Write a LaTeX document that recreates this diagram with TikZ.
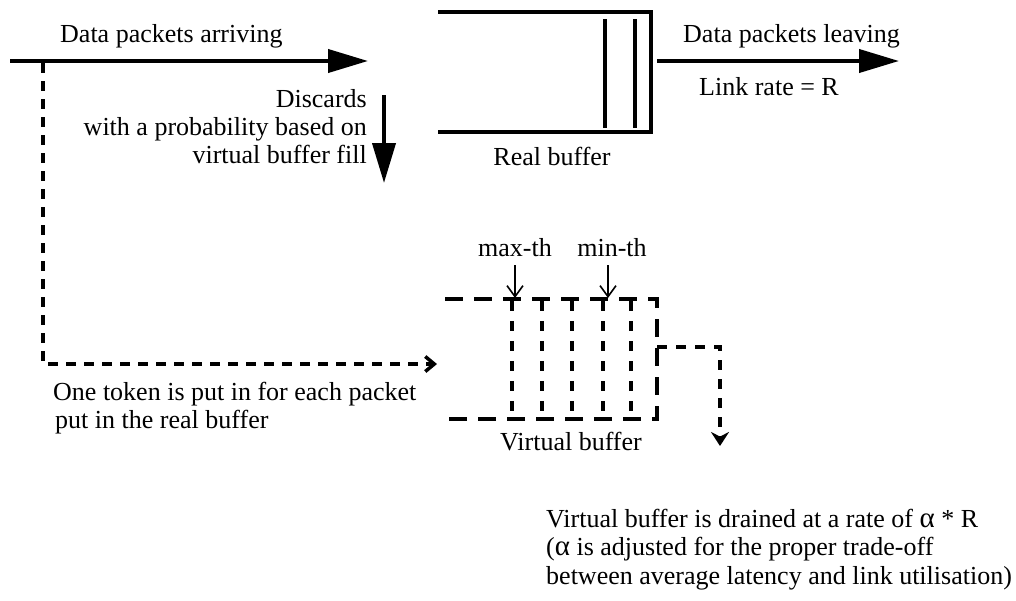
\documentclass[tikz,border=0pt]{standalone}
\usepackage{fontspec}
\setmainfont{Liberation Serif}
\usetikzlibrary{arrows.meta}
\begin{document}
\begin{tikzpicture}[x=1pt,y=-1pt,
  thickline/.style={line width=4pt},
  bigarrow/.style={line width=4pt,-{Triangle[length=40pt,width=23pt]}},
  tokenline/.style={line width=3.5pt,dash pattern=on 10pt off 8pt,-{Straight Barb[length=9pt,width=15pt]}},
  vbline/.style={line width=4pt,dash pattern=on 18pt off 11pt},
  vbinner/.style={line width=3.5pt,dash pattern=on 10pt off 10pt},
  drainline/.style={line width=3.5pt,dash pattern=on 10pt off 9pt,-{Stealth[length=14pt,width=18pt]}},
  tharrow/.style={line width=1.6pt,-{Straight Barb[length=11pt,width=16pt]}},
  lbl/.style={font=\fontsize{26}{28}\selectfont,inner sep=0pt},
  note/.style={font=\fontsize{26}{28.5}\selectfont,inner sep=0pt}]
\useasboundingbox (0,0) rectangle (1016,600);
% coordinates
\coordinate (inS) at (10,61);
\coordinate (inE) at (368,61);
\coordinate (tap) at (43,63);
\coordinate (tokC) at (43,364);
\coordinate (tokE) at (437,364);
\coordinate (dS) at (384,95);
\coordinate (dE) at (384,183);
\coordinate (outS) at (657,61);
\coordinate (outE) at (899,61);
\coordinate (rbTL) at (438,12);
\coordinate (rbTR) at (651,12);
\coordinate (rbBR) at (651,132);
\coordinate (rbBL) at (438,132);
\coordinate (vbTL) at (445,299);
\coordinate (vbTR) at (657,299);
\coordinate (vbBR) at (657,419);
\coordinate (vbBL) at (445,419);
\coordinate (drS) at (657,347);
\coordinate (drC) at (720,347);
\coordinate (drE) at (720,446);
\coordinate (maxS) at (515,265);
\coordinate (maxE) at (515,298);
\coordinate (minS) at (608,265);
\coordinate (minE) at (608,298);
% real buffer
\draw[thickline,line join=miter] (rbTL) -- (rbTR) -- (rbBR) -- (rbBL);
\foreach \x/\n in {605/a,635/b}{
  \coordinate (bar\n T) at (\x,19);
  \coordinate (bar\n B) at (\x,128);
  \draw[thickline] (bar\n T) -- (bar\n B);
}
% arrows
\draw[bigarrow] (inS) -- (inE);
\draw[bigarrow] (outS) -- (outE);
\draw[bigarrow] (dS) -- (dE);
\draw[tokenline] (tap) -- (tokC) -- (tokE);
% virtual buffer
\draw[vbline] (vbTL) -- (vbTR) -- (vbBR) -- (vbBL);
\foreach \x/\n in {512/a,542/b,572/c,603/d,631/e}{
  \coordinate (vb\n T) at (\x,301);
  \coordinate (vb\n B) at (\x,419);
  \draw[vbinner] (vb\n T) -- (vb\n B);
}
\draw[drainline] (drS) -- (drC) -- (drE);
\draw[tharrow] (maxS) -- (maxE);
\draw[tharrow] (minS) -- (minE);
% labels
\node[lbl,anchor=base west] (arriving) at (60,42) {Data packets arriving};
\node[lbl,anchor=base east,align=right] (discards) at (367,163) {Discards\\with a probability based on\\virtual buffer fill};
\node[lbl,anchor=base] (realbuf) at (552,165) {Real buffer};
\node[lbl,anchor=base west] (leaving) at (683,42) {Data packets leaving};
\node[lbl,anchor=base west] (linkrate) at (699,95) {Link rate = R};
\node[lbl,anchor=base] (maxth) at (515,256) {max-th};
\node[lbl,anchor=base] (minth) at (612,256) {min-th};
\node[lbl,anchor=base] (vbuf) at (571,450) {Virtual buffer};
\node[lbl,anchor=base west,align=left] (token) at (53,428) {One token is put in for each packet\\\hspace*{2pt}put in the real buffer};
\node[note,anchor=base west,align=left] (drain) at (546,584) {Virtual buffer is drained at a rate of {\fontsize{29}{28.5}\selectfont α} * R\\({\fontsize{29}{28.5}\selectfont α} is adjusted for the proper trade-off\\between average latency and link utilisation)};
\end{tikzpicture}
\end{document}
